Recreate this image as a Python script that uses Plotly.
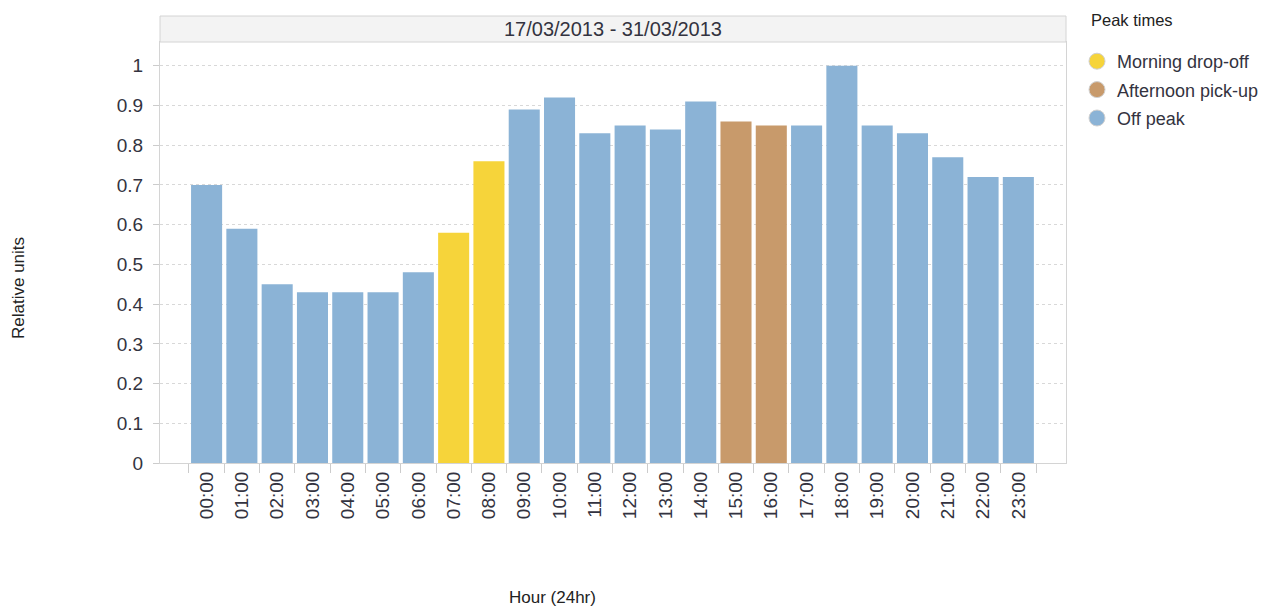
import plotly.graph_objects as go

hours = ["00:00", "01:00", "02:00", "03:00", "04:00", "05:00", "06:00", "07:00",
         "08:00", "09:00", "10:00", "11:00", "12:00", "13:00", "14:00", "15:00",
         "16:00", "17:00", "18:00", "19:00", "20:00", "21:00", "22:00", "23:00"]
values = [0.70, 0.59, 0.45, 0.43, 0.43, 0.43, 0.48, 0.58,
          0.76, 0.89, 0.92, 0.83, 0.85, 0.84, 0.91, 0.86,
          0.85, 0.85, 1.00, 0.85, 0.83, 0.77, 0.72, 0.72]
peak_group = ["Off peak"] * 7 + ["Morning drop-off"] * 2 + ["Off peak"] * 6 + \
             ["Afternoon pick-up"] * 2 + ["Off peak"] * 7
groups = ["Morning drop-off", "Afternoon pick-up", "Off peak"]
group_colors = {"Morning drop-off": "#F6D43A",
                "Afternoon pick-up": "#C89A6B",
                "Off peak": "#8BB3D6"}
y_ticks = [0, 0.1, 0.2, 0.3, 0.4, 0.5, 0.6, 0.7, 0.8, 0.9, 1]
header_text = "17/03/2013 - 31/03/2013"
legend_title = "Peak times"

FONT = "Liberation Sans, Arial, sans-serif"
TXT = "#333340"

fig = go.Figure()
fig.add_trace(go.Bar(
    x=hours, y=values,
    marker=dict(color=[group_colors[g] for g in peak_group], line=dict(width=0)),
    showlegend=False, hoverinfo="x+y",
))
for g in groups:
    fig.add_trace(go.Scatter(
        x=[None], y=[None], mode="markers", name=g, legendgroup=g,
        marker=dict(symbol="circle", size=18, color=group_colors[g],
                    line=dict(color="#d0d0d0", width=1)),
    ))

# page is drawn with an 8px offset in the browser
OFF = 8
W, H = 1274 - 2 * OFF, 606 - OFF
L, R, T, B = 160 - OFF, 1066 - OFF, 42 - OFF, 463 - OFF
pw, ph = R - L, B - T


def px(xw):
    return (xw - OFF - L) / pw


def py(yw):
    return (B - (yw - OFF)) / ph


fig.update_layout(
    width=W, height=H,
    margin=dict(l=L, r=W - R, t=T, b=H - B, pad=0, autoexpand=False),
    plot_bgcolor="white", paper_bgcolor="white",
    bargap=0.12,
    font=dict(family=FONT, color=TXT, size=15),
    legend=dict(
        x=px(1077), y=py(43), xanchor="left", yanchor="top",
        font=dict(size=18, color=TXT), itemsizing="trace",
        tracegroupgap=2, bgcolor="rgba(0,0,0,0)",
    ),
    xaxis=dict(
        type="category", categoryorder="array", categoryarray=hours,
        range=[-1.32, 24.35], tickangle=-90, tickson="boundaries",
        ticks="outside", ticklen=9, tickcolor="#cccccc",
        showline=True, linecolor="#d4d4d4", mirror=True, automargin=False,
        showgrid=False, tickfont=dict(size=19, color=TXT),
    ),
    yaxis=dict(
        range=[0, 1.06], tickvals=y_ticks, ticktext=[str(v) for v in y_ticks],
        ticks="outside", ticklen=6, tickcolor="#cccccc", automargin=False,
        showgrid=True, gridcolor="#d8d8d8", griddash="dot", gridwidth=1,
        showline=True, linecolor="#d4d4d4", mirror=True, zeroline=False,
        tickfont=dict(size=19, color=TXT), ticklabelstandoff=6,
    ),
    shapes=[dict(type="rect", xref="paper", yref="paper",
                 x0=0, x1=1, y0=1, y1=1 + 26 / ph,
                 fillcolor="#f3f3f3", line=dict(color="#d4d4d4", width=1))],
    annotations=[
        dict(text=header_text, xref="paper", yref="paper", x=0.5, y=1 + 13 / ph,
             xanchor="center", yanchor="middle", showarrow=False,
             font=dict(size=20, color=TXT)),
        dict(text=legend_title, xref="paper", yref="paper",
             x=px(1089), y=py(20), xanchor="left", yanchor="middle",
             showarrow=False, font=dict(size=16.5, color="#222")),
        dict(text="Relative units", xref="paper", yref="paper",
             x=px(18), y=py(288), textangle=-90,
             xanchor="center", yanchor="middle", showarrow=False,
             font=dict(size=17, color="#222")),
        dict(text="Hour (24hr)", xref="paper", yref="paper",
             x=px(552), y=py(597), xanchor="center", yanchor="middle",
             showarrow=False, font=dict(size=17, color="#222")),
    ],
)

fig.write_html("out.html")
